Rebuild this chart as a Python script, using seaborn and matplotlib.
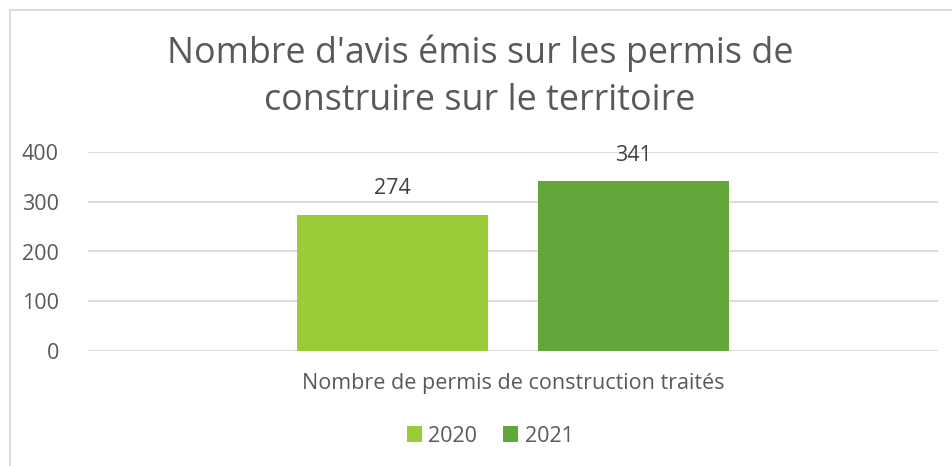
import matplotlib
matplotlib.use("Agg")
import matplotlib.pyplot as plt
import seaborn as sns
import pandas as pd
from matplotlib.patches import Rectangle
from matplotlib.lines import Line2D

categories = ["Nombre de permis de construction traités"]
years = ["2020", "2021"]
values = [274, 341]
colors = ["#9ACB39", "#63A639"]
yticks = [0, 100, 200, 300, 400]
title = "Nombre d'avis émis sur les permis de\nconstruire sur le territoire"

df = pd.DataFrame({"cat": categories * len(years), "year": years, "val": values})

sns.set_theme(style="white")
plt.rcParams['font.family'] = ['Open Sans', 'DejaVu Sans']

fig = plt.figure(figsize=(9.52, 4.66), dpi=100)
ax = fig.add_axes([88/952, 1-351/466, 850/952, 199/466])

sns.barplot(data=df, x="cat", y="val", hue="year", palette=colors,
            width=0.569, gap=0.21, dodge=True, ax=ax, legend=False,
            saturation=1, errorbar=None, linewidth=0)

ax.set_xlim(-0.5, 0.5)
ax.set_ylim(0, 400)
ax.set_yticks(yticks)
ax.set_yticklabels([str(t) for t in yticks], fontsize=15.5, color="#595959")
ax.yaxis.grid(True, color="#D9D9D9", linewidth=1.3)
ax.set_axisbelow(True)
for s in ax.spines.values():
    s.set_visible(False)
ax.tick_params(axis="y", length=0, pad=21)
ax.tick_params(axis="x", length=0, pad=16)
ax.set_xticks([0])
ax.set_xticklabels(categories, fontsize=15.5, color="#595959")
ax.set_xlabel("")
ax.set_ylabel("")

for cont in ax.containers:
    ax.bar_label(cont, padding=11, fontsize=15.5, color="#404040")

fig.text(480/952, 1-76.5/466, title, ha="center", va="center",
         fontsize=25.8, color="#595959", linespacing=1.42)

handles = [Rectangle((0, 0), 1, 1, facecolor=c, edgecolor="none") for c in colors]
fig.legend(handles, years, loc="center", bbox_to_anchor=(490/952, 1-436/466),
           ncol=2, frameon=False, fontsize=15.5, handlelength=0.7, handleheight=0.7,
           handletextpad=0.3, columnspacing=1.2, labelcolor="#595959")

# chart frame (left and top borders)
fig.add_artist(Line2D([10/952, 10/952], [0, 1-10/466], color="#D9D9D9", linewidth=1.3, transform=fig.transFigure))
fig.add_artist(Line2D([10/952, 1], [1-10/466, 1-10/466], color="#D9D9D9", linewidth=1.3, transform=fig.transFigure))

fig.savefig("out.png", dpi=100)
